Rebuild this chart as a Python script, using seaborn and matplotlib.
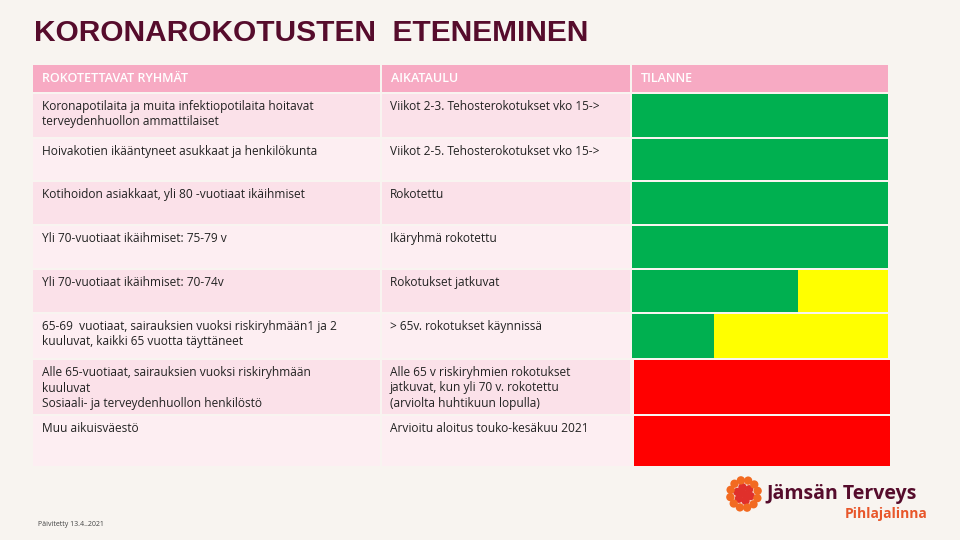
import matplotlib
matplotlib.use("Agg")
import matplotlib.pyplot as plt
import seaborn as sns
import numpy as np
from matplotlib.patches import Rectangle

title = "KORONAROKOTUSTEN  ETENEMINEN"
headers = ["ROKOTETTAVAT RYHMÄT", "AIKATAULU", "TILANNE"]
groups = [
    "Koronapotilaita ja muita infektiopotilaita hoitavat\nterveydenhuollon ammattilaiset",
    "Hoivakotien ikääntyneet asukkaat ja henkilökunta",
    "Kotihoidon asiakkaat, yli 80 -vuotiaat ikäihmiset",
    "Yli 70-vuotiaat ikäihmiset: 75-79 v",
    "Yli 70-vuotiaat ikäihmiset: 70-74v",
    "65-69  vuotiaat, sairauksien vuoksi riskiryhmään1 ja 2\nkuuluvat, kaikki 65 vuotta täyttäneet",
    "Alle 65-vuotiaat, sairauksien vuoksi riskiryhmään\nkuuluvat\nSosiaali- ja terveydenhuollon henkilöstö",
    "Muu aikuisväestö",
]
schedule = [
    "Viikot 2-3. Tehosterokotukset vko 15->",
    "Viikot 2-5. Tehosterokotukset vko 15->",
    "Rokotettu",
    "Ikäryhmä rokotettu",
    "Rokotukset jatkuvat",
    "> 65v. rokotukset käynnissä",
    "Alle 65 v riskiryhmien rokotukset\njatkuvat, kun yli 70 v. rokotettu\n(arviolta huhtikuun lopulla)",
    "Arvioitu aloitus touko-kesäkuu 2021",
]
green = [1.0, 1.0, 1.0, 1.0, 0.65, 0.32, 0.0, 0.0]
yellow = [0.0, 0.0, 0.0, 0.0, 0.35, 0.68, 0.0, 0.0]
red = [0.0, 0.0, 0.0, 0.0, 0.0, 0.0, 1.0, 1.0]
updated = "Päivitetty 13.4..2021"

rows = [(94, 137), (139, 180), (182, 224), (226, 268), (270, 312), (314, 358), (360, 414), (416, 466)]
W, H = 960, 540
BG = "#f8f4f0"
MAROON = "#560c2c"
fig = plt.figure(figsize=(9.6, 5.4), dpi=100, facecolor=BG)
ax = fig.add_axes([0, 0, 1, 1])
ax.set_xlim(0, W); ax.set_ylim(H, 0); ax.axis("off")
fn = "Open Sans"

ax.text(34, 33, title, fontsize=21.5, fontweight="bold", color=MAROON, va="center", family="Liberation Sans")

for x0, x1, h in [(33, 380, headers[0]), (382, 630, headers[1]), (632, 888, headers[2])]:
    ax.add_patch(Rectangle((x0, 65), x1 - x0, 27, color="#f7aac3", lw=0))
    ax.text(x0 + 9, 79, h, fontsize=9, color="white", va="center", family=fn, fontweight="semibold")

for i, (t, b) in enumerate(rows):
    c = "#fbe1e9" if i % 2 == 0 else "#fdeef2"
    ax.add_patch(Rectangle((33, t), 347, b - t, color=c, lw=0))
    ax.add_patch(Rectangle((382, t), 248, b - t, color=c, lw=0))
    ax.text(42, t + 6, groups[i], fontsize=8.6, va="top", family=fn, color="#222222", linespacing=1.25)
    ax.text(390, t + 6, schedule[i], fontsize=8.6, va="top", family=fn, color="#222222", linespacing=1.25)
    x0 = 634 if red[i] > 0 else 632
    sax = fig.add_axes([x0 / W, 1 - b / H, 256 / W, (b - t) / H])
    sax.axis("off")
    if red[i] > 0:
        sns.barplot(x=[red[i]], y=[0], orient="h", color="#ff0000", width=1, ax=sax, saturation=1)
    else:
        sns.barplot(x=[green[i] + yellow[i]], y=[0], orient="h", color="#ffff00", width=1, ax=sax, saturation=1)
        sns.barplot(x=[green[i]], y=[0], orient="h", color="#00b050", width=1, ax=sax, saturation=1)
    sax.set_ylim(0.5, -0.5)
    sax.set_xlim(0, 1)

ax.text(38, 525, updated, fontsize=5, color="#444444", family=fn, va="center")

cx, cy = 744, 494
pts = [(0, 0)]
for r, n in [(7, 6), (14, 12)]:
    for k in range(n):
        a = 2 * np.pi * k / n + 0.3
        pts.append((r * np.cos(a), r * np.sin(a)))
ax.scatter([cx + p[0] for p in pts], [cy + p[1] for p in pts], s=36,
           c=["#e0302b" if np.hypot(*p) < 8 else "#f26a21" for p in pts], lw=0)
ax.text(766, 494, "Jämsän Terveys", fontsize=14, fontweight="bold", color=MAROON, va="center", family=fn)
ax.text(928, 514, "Pihlajalinna", fontsize=10, fontweight="bold", color="#e8562a", va="center", ha="right", family=fn)

fig.savefig("out.png", dpi=100, facecolor=BG)
